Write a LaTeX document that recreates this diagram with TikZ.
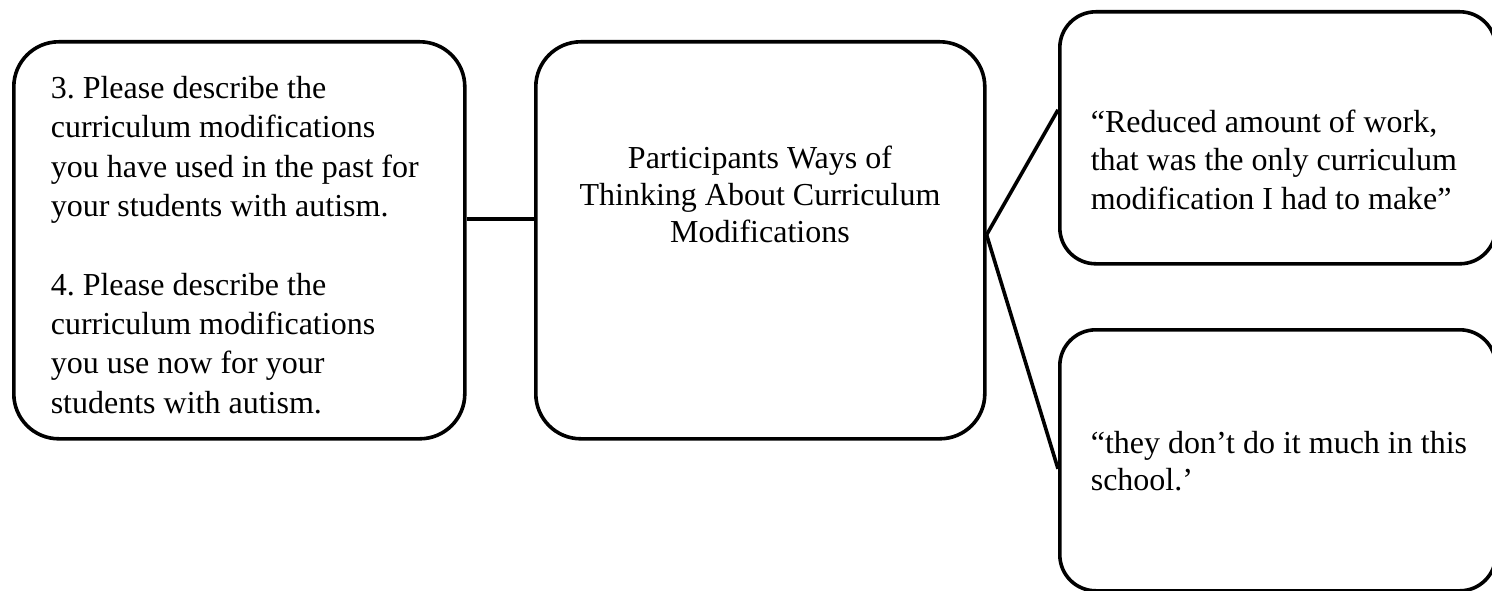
\documentclass[tikz,border=0pt]{standalone}
\usepackage{fontspec}
\setmainfont{Liberation Serif}
\frenchspacing

\begin{document}
\begin{tikzpicture}[x=1pt,y=-1pt,line width=3.6pt,
box/.style={draw,rounded corners=45pt,inner sep=0pt,anchor=north west},
quote/.style={box,rounded corners=36pt},
txt/.style={font=\fontsize{32}{#1}\selectfont,inner sep=0pt},
txt/.default=38]
\useasboundingbox (0,0) rectangle (1492,591);
\node[box,minimum width=451pt,minimum height=397pt](qs) at (12,40){};
\node[box,minimum width=449pt,minimum height=397pt](ways) at (534,40){};
\node[quote,minimum width=436pt,minimum height=252pt](r1) at (1058,10){};
\node[quote,minimum width=436pt,minimum height=261pt](r2) at (1058,328){};
\node[txt=39.3,anchor=base west,align=left](qstext) at (49,413)
{3. Please describe the\\curriculum modifications\\you have used in the past for\\your students with autism.\\[39.3pt]
4. Please describe the\\curriculum modifications\\you use now for your\\students with autism.};
\node[txt=37,anchor=base,align=center](waystext) at (760,242)
{Participants Ways of\\Thinking About Curriculum\\Modifications};
\node[txt=38.5,anchor=base west,align=left](r1text) at (1089,209)
{“Reduced amount of work,\\that was the only curriculum\\modification I had to make”};
\node[txt=37,anchor=base west,align=left](r2text) at (1089,490)
{“they don’t do it much in this\\school.’};
\draw ([yshift=21.5pt]qs.east) -- ([yshift=21.5pt]ways.west);
\draw ([yshift=5.5pt]ways.east) -- ([yshift=28pt]r1.west);
\draw ([yshift=5.5pt]ways.east) -- ([yshift=-8.5pt]r2.west);
\end{tikzpicture}
\end{document}
